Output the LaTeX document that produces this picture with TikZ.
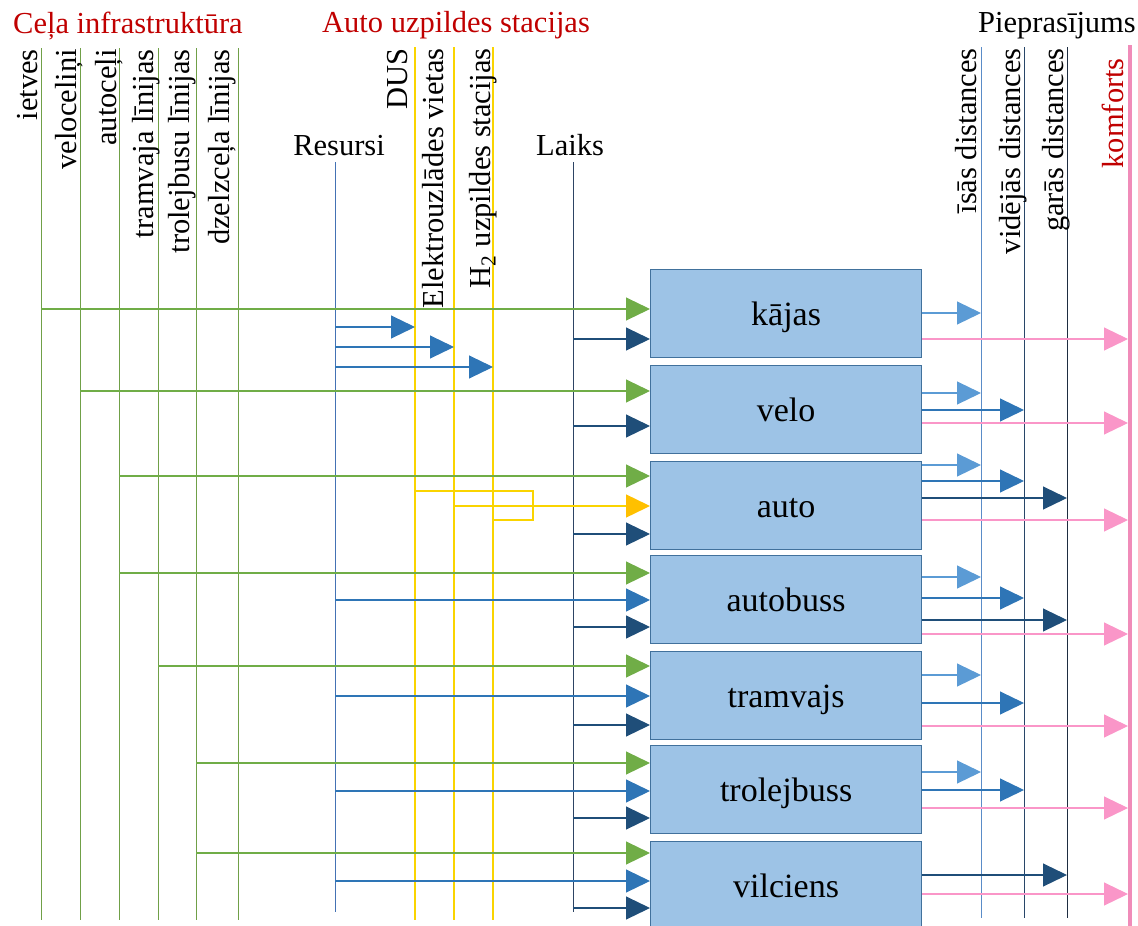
\documentclass[tikz,border=0pt]{standalone}
\usepackage{fontspec}
\setmainfont{Liberation Serif}
\usetikzlibrary{arrows.meta}
\definecolor{infraC}{RGB}{112,160,72}
\definecolor{greenA}{RGB}{112,173,71}
\definecolor{fuelC}{RGB}{250,212,0}
\definecolor{fuelA}{RGB}{255,192,0}
\definecolor{resC}{RGB}{68,114,180}
\definecolor{resA}{RGB}{46,117,182}
\definecolor{navyA}{RGB}{31,78,121}
\definecolor{laiksC}{RGB}{45,68,100}
\definecolor{lightA}{RGB}{91,155,213}
\definecolor{isasC}{RGB}{90,140,200}
\definecolor{vidC}{RGB}{40,70,105}
\definecolor{garC}{RGB}{30,45,65}
\definecolor{pinkC}{RGB}{240,140,185}
\definecolor{pinkA}{RGB}{250,150,200}
\definecolor{boxF}{RGB}{157,195,230}
\definecolor{boxD}{RGB}{65,113,156}
\definecolor{hdRed}{RGB}{192,0,0}
\newcommand\fs[1]{\fontsize{#1}{#1}\selectfont}
\newcommand\conn[4]{\draw[#1] (#2 |- 0,#4) -- (#3 |- 0,#4);}
\newcommand\vln[5]{\coordinate (#1T) at (#2,#3); \coordinate (#1B) at (#2,#4); \draw[#5] (#1T) -- (#1B);}
\begin{document}
\begin{tikzpicture}[x=1pt,y=-1pt,
  infl/.style={line width=1pt,draw=infraC},
  fuell/.style={line width=1.4pt,draw=fuelC},
  resl/.style={line width=1pt,draw=resC},
  lail/.style={line width=1pt,draw=laiksC},
  isal/.style={line width=1pt,draw=isasC},
  vidl/.style={line width=1pt,draw=vidC},
  garl/.style={line width=1pt,draw=garC},
  koml/.style={line width=4pt,draw=pinkC},
  lab/.style={rotate=90,anchor=base east,inner sep=0pt,font=\fs{30.5}},
  hdr/.style={anchor=base west,inner sep=0pt,font=\fs{30.5}},
  mode/.style={draw=boxD,fill=boxF,line width=1.2pt,minimum width=271pt,minimum height=88pt,
    inner sep=0pt,anchor=north west,font=\fs{34},text height=30pt,text depth=6pt},
  tip/.style={line width=1.1pt,-{Triangle[length=24pt,width=23pt]}},
  ga/.style={tip,draw=greenA},
  ba/.style={tip,draw=resA},
  na/.style={tip,draw=navyA},
  la/.style={tip,draw=lightA},
  ya/.style={line width=1.4pt,draw=fuelC,-{Triangle[length=24pt,width=23pt,color=fuelA]}},
  pa/.style={tip,draw=pinkA,shorten >=2pt},
]
\useasboundingbox (0,0) rectangle (1138,926);

% vertical lines
\vln{iet}{41}{48}{920}{infl}
\vln{vel}{80}{48}{920}{infl}
\vln{aut}{119}{48}{920}{infl}
\vln{tra}{158}{48}{920}{infl}
\vln{tro}{196}{48}{920}{infl}
\vln{dze}{238}{48}{920}{infl}
\vln{dus}{415}{47}{920}{fuell}
\vln{ele}{454}{47}{920}{fuell}
\vln{htwo}{493}{47}{920}{fuell}
\vln{res}{335}{162}{912}{resl}
\vln{lai}{573}{162}{912}{lail}
\vln{isa}{981}{47}{918}{isal}
\vln{vid}{1024}{47}{918}{vidl}
\vln{gar}{1067}{47}{918}{garl}
\vln{kom}{1130}{45}{926}{koml}

% headers
\node[hdr,text=hdRed] (hInfra) at (13,33) {Ceļa infrastruktūra};
\node[hdr,text=hdRed] (hFuel) at (322,32) {Auto uzpildes stacijas};
\node[hdr,anchor=base east] (hDem) at (1136,32) {Pieprasījums};
\node[hdr,anchor=base] (hRes) at (339,155) {Resursi};
\node[hdr,anchor=base] (hLai) at (570,155) {Laiks};

% rotated labels
\node[lab] (lIet) at (37,49) {ietves};
\node[lab] (lVel) at (76,49) {veloceliņi};
\node[lab] (lAut) at (116,49) {autoceļi};
\node[lab] (lTra) at (153,49) {tramvaja līnijas};
\node[lab] (lTro) at (189,49) {trolejbusu līnijas};
\node[lab] (lDze) at (229,49) {dzelzceļa līnijas};
\node[lab] (lDus) at (407,48) {DUS};
\node[lab] (lEle) at (443,48) {Elektrouzlādes vietas};
\node[lab] (lHtwo) at (490,48) {H\textsubscript{2} uzpildes stacijas};
\node[lab] (lIsa) at (976,48) {īsās distances};
\node[lab] (lVid) at (1020,48) {vidējās distances};
\node[lab] (lGar) at (1063,48) {garās distances};
\node[lab,text=hdRed] (lKom) at (1123,58) {komforts};

% mode boxes
\node[mode] (kajas) at (650,269) {kājas};
\node[mode] (velo) at (650,365) {velo};
\node[mode] (auto) at (650,461) {auto};
\node[mode] (autobuss) at (650,555) {autobuss};
\node[mode] (tramvajs) at (650,651) {tramvajs};
\node[mode] (trolejbuss) at (650,745) {trolejbuss};
\node[mode] (vilciens) at (650,841) {vilciens};

% resources to fuel stations
\conn{ba}{resT}{dusT}{327}
\conn{ba}{resT}{eleT}{347}
\conn{ba}{resT}{htwoT}{367}

% fuel bracket
\coordinate (brA) at (533,491);
\coordinate (brB) at (533,520);
\draw[fuell] (dusT |- brA) -- (brA) -- (brB) -- (htwoT |- brB);

% inputs
\conn{ga}{ietT}{kajas.west}{309}
\conn{na}{laiT}{kajas.west}{339}
\conn{ga}{velT}{velo.west}{391}
\conn{na}{laiT}{velo.west}{426}
\conn{ga}{autT}{auto.west}{476}
\conn{ya}{eleT}{auto.west}{506}
\conn{na}{laiT}{auto.west}{534}
\conn{ga}{autT}{autobuss.west}{573}
\conn{ba}{resT}{autobuss.west}{600}
\conn{na}{laiT}{autobuss.west}{627}
\conn{ga}{traT}{tramvajs.west}{666}
\conn{ba}{resT}{tramvajs.west}{696}
\conn{na}{laiT}{tramvajs.west}{725}
\conn{ga}{troT}{trolejbuss.west}{763}
\conn{ba}{resT}{trolejbuss.west}{791}
\conn{na}{laiT}{trolejbuss.west}{818}
\conn{ga}{troT}{vilciens.west}{853}
\conn{ba}{resT}{vilciens.west}{881}
\conn{na}{laiT}{vilciens.west}{908}

% outputs
\conn{la}{kajas.east}{isaT}{313}
\conn{pa}{kajas.east}{komT}{339}
\conn{la}{velo.east}{isaT}{393}
\conn{ba}{velo.east}{vidT}{410}
\conn{pa}{velo.east}{komT}{423}
\conn{la}{auto.east}{isaT}{465}
\conn{ba}{auto.east}{vidT}{481}
\conn{na}{auto.east}{garT}{498}
\conn{pa}{auto.east}{komT}{520}
\conn{la}{autobuss.east}{isaT}{577}
\conn{ba}{autobuss.east}{vidT}{598}
\conn{na}{autobuss.east}{garT}{620}
\conn{pa}{autobuss.east}{komT}{634}
\conn{la}{tramvajs.east}{isaT}{675}
\conn{ba}{tramvajs.east}{vidT}{703}
\conn{pa}{tramvajs.east}{komT}{726}
\conn{la}{trolejbuss.east}{isaT}{772}
\conn{ba}{trolejbuss.east}{vidT}{790}
\conn{pa}{trolejbuss.east}{komT}{808}
\conn{na}{vilciens.east}{garT}{875}
\conn{pa}{vilciens.east}{komT}{894}
\end{tikzpicture}
\end{document}
